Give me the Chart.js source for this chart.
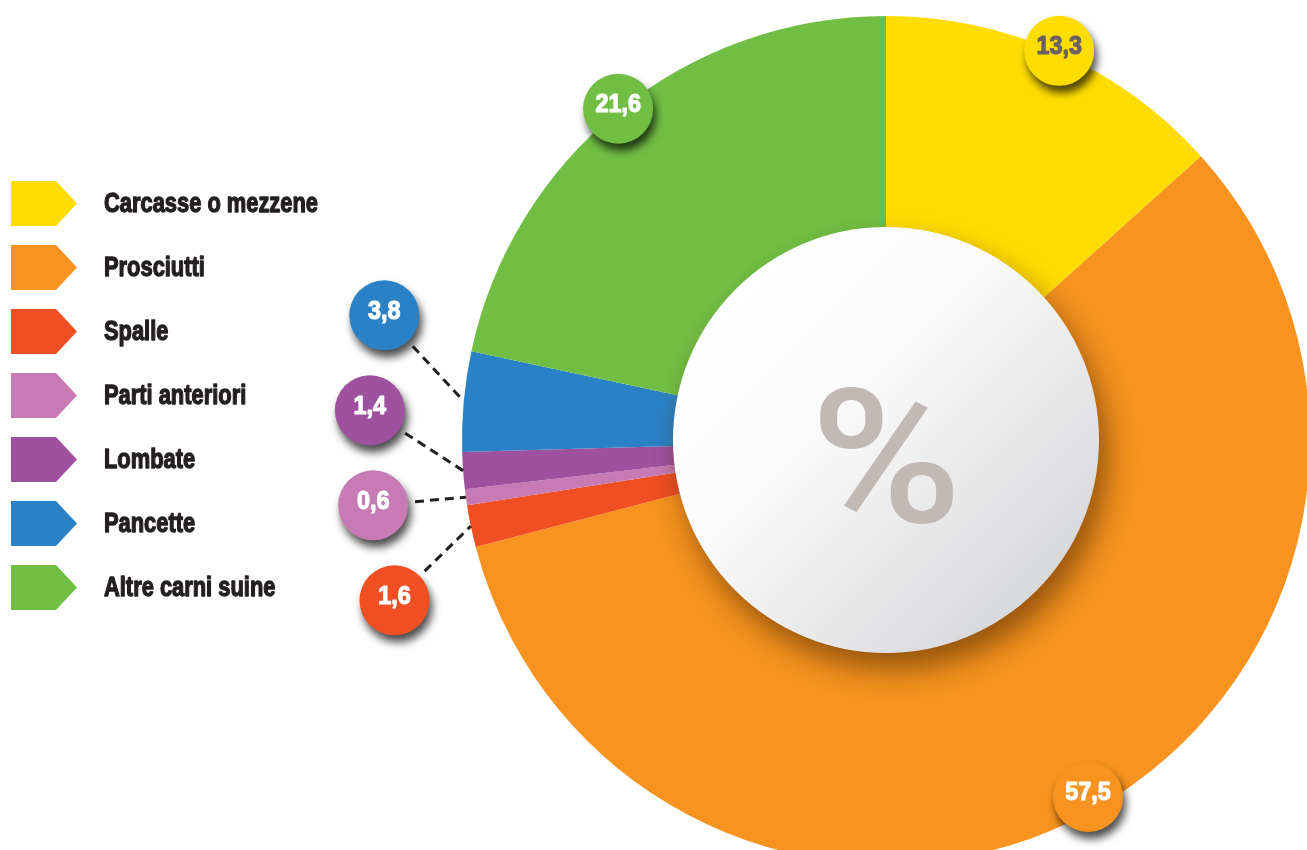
<!DOCTYPE html>
<html>
<head>
<meta charset="utf-8">
<script src="https://cdn.jsdelivr.net/npm/chart.js@4.4.1/dist/chart.umd.min.js"></script>
<style>
html, body { margin: 0; padding: 0; background: #fff; overflow: hidden; width: 1307px; height: 850px; }
#wrap { position: absolute; left: 0; top: 0; width: 1320px; height: 880px; }
</style>
</head>
<body>
<div id="wrap"><canvas id="myChart"></canvas></div>
<script>
var categories = ['Carcasse o mezzene', 'Prosciutti', 'Spalle', 'Parti anteriori', 'Lombate', 'Pancette', 'Altre carni suine'];
var values = [13.3, 57.5, 1.6, 0.6, 1.4, 3.8, 21.6];
var colors = ['#FFDD00', '#F7931E', '#F04E23', '#C67BB5', '#9D519F', '#2A81C6', '#70BF44'];
var centerLabel = '%';

var textFont = '"Liberation Sans", Arial, sans-serif';
var visibleHeight = 850;

function formatValue(v) {
    return v.toFixed(1).replace('.', ',');
}

function isLight(hex) {
    var r = parseInt(hex.substr(1, 2), 16), g = parseInt(hex.substr(3, 2), 16), b = parseInt(hex.substr(5, 2), 16);
    return (0.299 * r + 0.587 * g + 0.114 * b) / 255 > 0.75;
}

// condensed heavy look: squeeze horizontally and thicken with a stroke
function narrowText(ctx, text, x, y, sx, weight) {
    ctx.save();
    ctx.translate(x, y);
    ctx.scale(sx, 1);
    ctx.strokeStyle = ctx.fillStyle;
    ctx.lineWidth = weight;
    ctx.lineJoin = 'round';
    ctx.strokeText(text, 0, 0);
    ctx.fillText(text, 0, 0);
    ctx.restore();
}

function drawBubble(ctx, x, y, color, text) {
    ctx.save();
    ctx.shadowColor = 'rgba(0,0,0,0.7)';
    ctx.shadowBlur = 9;
    ctx.shadowOffsetX = 3;
    ctx.shadowOffsetY = 7;
    ctx.fillStyle = color;
    ctx.beginPath();
    ctx.arc(x, y, 35, 0, Math.PI * 2);
    ctx.fill();
    ctx.restore();
    ctx.fillStyle = isLight(color) ? '#6b6163' : '#ffffff';
    ctx.font = 'bold 26px ' + textFont;
    ctx.textAlign = 'center';
    ctx.textBaseline = 'middle';
    narrowText(ctx, text, x, y - 4, 0.9, 1.2);
}

function drawCenter(ctx, cx, cy, r) {
    ctx.save();
    ctx.shadowColor = 'rgba(80,40,0,0.6)';
    ctx.shadowBlur = 30;
    ctx.shadowOffsetX = 8;
    ctx.shadowOffsetY = 16;
    var grad = ctx.createLinearGradient(cx - r * 0.7, cy - r * 0.7, cx + r * 0.7, cy + r * 0.7);
    grad.addColorStop(0, '#ffffff');
    grad.addColorStop(0.35, '#fbfbfb');
    grad.addColorStop(1, '#d8d9db');
    ctx.fillStyle = grad;
    ctx.beginPath();
    ctx.arc(cx, cy, r, 0, Math.PI * 2);
    ctx.fill();
    ctx.restore();

    // % sign, sized to the glyph box
    ctx.save();
    ctx.font = '500 190px Roboto';
    var m = ctx.measureText(centerLabel);
    var h = m.actualBoundingBoxAscent + m.actualBoundingBoxDescent;
    var size = 190 * 137 / h;
    ctx.font = '500 ' + size + 'px Roboto';
    m = ctx.measureText(centerLabel);
    var w = m.actualBoundingBoxLeft + m.actualBoundingBoxRight;
    ctx.fillStyle = '#c1b9b6';
    ctx.textAlign = 'center';
    ctx.textBaseline = 'alphabetic';
    ctx.translate(cx, cy + 15 + (m.actualBoundingBoxAscent - m.actualBoundingBoxDescent) / 2);
    ctx.scale(133 / w, 1);
    ctx.fillText(centerLabel, 0, 0);
    ctx.restore();
}

function drawLegend(ctx) {
    ctx.font = 'bold 27px ' + textFont;
    var sx = 214 / ctx.measureText(categories[0]).width;
    for (var i = 0; i < categories.length; i++) {
        var y = 203.5 + i * 64;
        ctx.fillStyle = colors[i];
        ctx.beginPath();
        ctx.moveTo(11, y - 22.5);
        ctx.lineTo(56, y - 22.5);
        ctx.lineTo(77, y);
        ctx.lineTo(56, y + 22.5);
        ctx.lineTo(11, y + 22.5);
        ctx.closePath();
        ctx.fill();
        ctx.fillStyle = '#231f20';
        ctx.textAlign = 'left';
        ctx.textBaseline = 'middle';
        narrowText(ctx, categories[i], 104, y + 1, sx, 1.3);
    }
}

var labelPlugin = {
    id: 'bubbles',
    afterDatasetsDraw(chart) {
        var ctx = chart.ctx;
        var meta = chart.getDatasetMeta(0);
        var first = meta.data[0].getProps(['x', 'y', 'innerRadius', 'outerRadius'], true);
        var cx = first.x, cy = first.y;

        drawCenter(ctx, cx, cy, first.innerRadius + 1);

        var small = [];
        var big = [];
        meta.data.forEach(function (arc, i) {
            var p = arc.getProps(['startAngle', 'endAngle', 'outerRadius'], true);
            var a = (p.startAngle + p.endAngle) / 2;
            var item = {
                i: i,
                a: a,
                ax: cx + p.outerRadius * Math.cos(a),
                ay: cy + p.outerRadius * Math.sin(a),
                r: p.outerRadius
            };
            if (values[i] < 5) small.push(item); else big.push(item);
        });

        big.forEach(function (it) {
            var bx = cx + (it.r + 2) * Math.cos(it.a);
            var by = cy + (it.r + 2) * Math.sin(it.a);
            by = Math.min(by, visibleHeight - 53);
            drawBubble(ctx, bx, by, colors[it.i], formatValue(values[it.i]));
        });

        // small slices: stacked on a wider circle at the left, with leader lines
        small.sort(function (a, b) { return a.ay - b.ay; });
        var mean = 0;
        small.forEach(function (it) { mean += it.ay; });
        mean = mean / small.length - 16;
        var ring = first.outerRadius + 93;
        small.forEach(function (it, k) {
            var by = mean + (k - (small.length - 1) / 2) * 95;
            var dy = by - cy;
            var bx = cx - Math.sqrt(ring * ring - dy * dy);
            var ux = it.ax - bx, uy = it.ay - by;
            var len = Math.sqrt(ux * ux + uy * uy);
            ctx.save();
            ctx.strokeStyle = '#231f20';
            ctx.lineWidth = 3;
            ctx.setLineDash([9, 6]);
            ctx.beginPath();
            ctx.moveTo(bx + ux / len * 42, by + uy / len * 42);
            ctx.lineTo(it.ax, it.ay);
            ctx.stroke();
            ctx.restore();
            drawBubble(ctx, bx, by, colors[it.i], formatValue(values[it.i]));
        });

        drawLegend(ctx);
    }
};

var ctx = document.getElementById('myChart');
var myChart = new Chart(ctx, {
    type: 'doughnut',
    data: {
        labels: categories,
        datasets: [{
            data: values,
            backgroundColor: colors,
            borderWidth: 0,
            hoverBorderWidth: 0,
            hoverOffset: 0,
            offset: 0
        }]
    },
    options: {
        responsive: true,
        maintainAspectRatio: false,
        animation: false,
        cutout: '50%',
        layout: { padding: { left: 462, top: 16, right: 10, bottom: 16 } },
        plugins: {
            legend: { display: false },
            tooltip: { enabled: false }
        }
    },
    plugins: [labelPlugin]
});
</script>
</body>
</html>
